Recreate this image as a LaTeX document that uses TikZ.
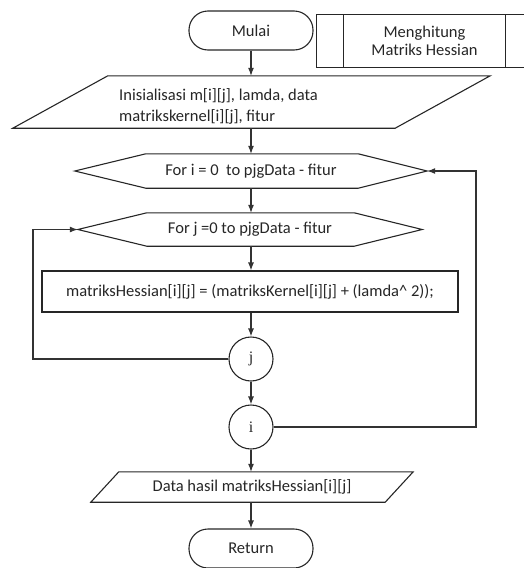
\documentclass[tikz,border=0pt]{standalone}
\usepackage{fontspec}
\setmainfont{Carlito}
\newfontfamily\serifcirc{Liberation Serif}
\usetikzlibrary{arrows.meta,calc}
\begin{document}
\begin{tikzpicture}[x=1pt,y=-1pt,
  every node/.style={font=\fontsize{16.5}{20}\selectfont, text=black!85},
  shp/.style={draw=black!85, line width=1.1pt},
  blank/.style={rectangle, inner sep=0pt, draw=none},
  term/.style={shp, rounded corners=19pt, minimum width=124pt, minimum height=39pt, inner sep=0pt},
  arr/.style={draw=black!80, line width=1.1pt, -{Latex[length=8pt,width=6pt]}},
  circ/.style={shp, circle, minimum size=44pt, inner sep=0pt, font=\serifcirc\fontsize{16}{18}\selectfont},
]
\useasboundingbox (0,0) rectangle (523,568);

% start
\node[term] (mulai) at (251,30.5) {Mulai};

% predefined process
\node[blank, minimum width=215pt, minimum height=52pt, align=center] (sub) at (424.5,41)
  {Menghitung\\[-2pt]Matriks Hessian};
\draw[shp] (sub.north west) rectangle (sub.south east);
\draw[shp] ([xshift=27pt]sub.north west) -- ([xshift=27pt]sub.south west);
\draw[shp] ([xshift=-27pt]sub.north east) -- ([xshift=-27pt]sub.south east);

% input parallelogram
\node[blank, minimum width=477pt, minimum height=52pt] (in) at (251.5,102) {};
\draw[shp] ([xshift=95pt]in.north west) -- (in.north east) -- ([xshift=-95pt]in.south east) -- (in.south west) -- cycle;
\node[anchor=west, align=left, inner sep=0pt] (intext) at (119,106)
  {Inisialisasi m[i][j], lamda, data\\[1pt]matrikskernel[i][j], fitur};

% loop i
\node[blank, minimum width=352pt, minimum height=34pt] (hi) at (251,171) {For i = 0 \ to pjgData - fitur};
\draw[shp] ([xshift=71pt]hi.north west) -- ([xshift=-69pt]hi.north east) -- (hi.east)
  -- ([xshift=-69pt]hi.south east) -- ([xshift=71pt]hi.south west) -- (hi.west) -- cycle;

% loop j
\node[blank, minimum width=344pt, minimum height=33pt] (hj) at (250,229.5) {For j =0 to pjgData - fitur};
\draw[shp] ([xshift=69pt]hj.north west) -- ([xshift=-68pt]hj.north east) -- (hj.east)
  -- ([xshift=-68pt]hj.south east) -- ([xshift=69pt]hj.south west) -- (hj.west) -- cycle;

% process
\node[shp, rectangle, minimum width=416pt, minimum height=41pt, inner sep=0pt] (proc) at (250,291.5)
  {matriksHessian[i][j] = (matriksKernel[i][j] + (lamda\^{} 2));};

% connectors (circles)
\node[circ] (cj) at (251,359) {j};
\node[circ] (ci) at (251,427) {i};

% output parallelogram
\node[blank, minimum width=322pt, minimum height=30pt] (out) at (252,487) {Data hasil matriksHessian[i][j]};
\draw[shp] ([xshift=28pt]out.north west) -- (out.north east) -- ([xshift=-28pt]out.south east) -- (out.south west) -- cycle;

% end
\node[term] (ret) at (251,548.5) {Return};

% helper coordinates for loop-backs
\coordinate (lj) at (33,0);
\coordinate (ri) at (476,0);

% arrows
\draw[arr] (mulai.south) -- (mulai.south |- in.north);
\draw[arr] (in.south -| mulai) -- (hi.north -| mulai);
\draw[arr] (hi.south -| mulai) -- (hj.north -| mulai);
\draw[arr] (hj.south -| mulai) -- (proc.north -| mulai);
\draw[arr] (proc.south -| mulai) -- (cj.north);
\draw[arr] (cj.south) -- (ci.north);
\draw[arr] (ci.south) -- (out.north -| ci);
\draw[arr] (out.south -| ci) -- (ret.north);
\draw[arr] (cj.west) -- (cj.west -| lj) |- (hj.west);
\draw[arr] (ci.east) -- (ci.east -| ri) |- (hi.east);
\end{tikzpicture}
\end{document}
